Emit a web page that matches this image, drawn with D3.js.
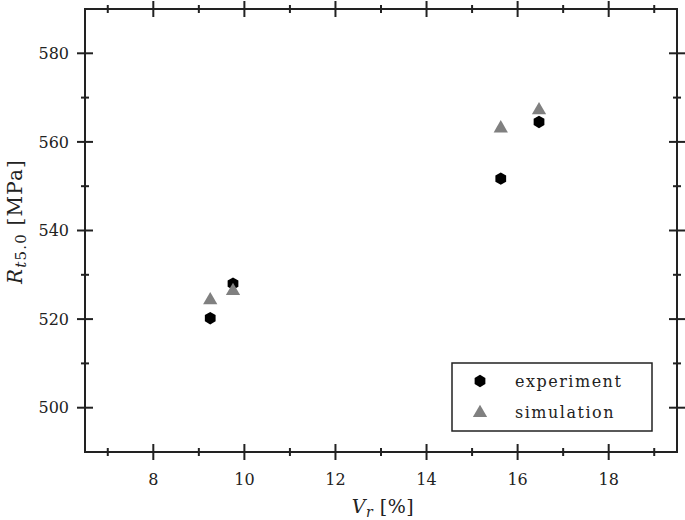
<!DOCTYPE html>
<html>
<head>
<meta charset="utf-8">
<script src="https://cdn.jsdelivr.net/npm/d3@7"></script>
<style>
  body { margin: 0; background: #fff; }
  svg { display: block; }
  text { font-family: "DejaVu Serif", serif; fill: #222; }
</style>
</head>
<body>
<svg id="chart" width="685" height="520"></svg>
<script>
// values
var vr = [9.25, 9.75, 15.63, 16.47];
var experiment = [520.2, 528.0, 551.7, 564.5];
var simulation = [524.5, 526.6, 563.3, 567.4];
var seriesNames = ["experiment", "simulation"];
var xTicks = [8, 10, 12, 14, 16, 18];
var yTicks = [500, 520, 540, 560, 580];
var xMinor = [7, 9, 11, 13, 15, 17, 19];
var yMinor = [510, 530, 550, 570];

var W = 685, H = 520;
var margin = { top: 9, right: 8, bottom: 68, left: 85 };
var width = W - margin.left - margin.right,
    height = H - margin.top - margin.bottom;

var svg = d3.select("#chart");
var g = svg.append("g").attr("transform", "translate(" + margin.left + "," + margin.top + ")");

var x = d3.scaleLinear().domain([6.5, 19.5]).range([0, width]);
var y = d3.scaleLinear().domain([490, 590]).range([height, 0]);

var ink = "#222";

// frame
g.append("rect")
  .attr("width", width).attr("height", height)
  .attr("fill", "none").attr("stroke", ink).attr("stroke-width", 2);

function ticksX(vals, len, yPos) {
  g.append("g").selectAll("line").data(vals).enter().append("line")
    .attr("x1", function (d) { return x(d); }).attr("x2", function (d) { return x(d); })
    .attr("y1", yPos - len).attr("y2", yPos + len)
    .attr("stroke", ink).attr("stroke-width", 2);
}
function ticksY(vals, len, xPos) {
  g.append("g").selectAll("line").data(vals).enter().append("line")
    .attr("y1", function (d) { return y(d); }).attr("y2", function (d) { return y(d); })
    .attr("x1", xPos - len).attr("x2", xPos + len)
    .attr("stroke", ink).attr("stroke-width", 2);
}
ticksX(xTicks, 8, 0); ticksX(xTicks, 8, height);
ticksX(xMinor, 4, 0); ticksX(xMinor, 4, height);
ticksY(yTicks, 8, 0); ticksY(yTicks, 8, width);
ticksY(yMinor, 4, 0); ticksY(yMinor, 4, width);

// tick labels
g.append("g").selectAll("text").data(xTicks).enter().append("text")
  .attr("x", function (d) { return x(d); }).attr("y", height + 33)
  .attr("text-anchor", "middle").attr("font-size", 16)
  .text(function (d) { return d; });
g.append("g").selectAll("text").data(yTicks).enter().append("text")
  .attr("x", -16).attr("y", function (d) { return y(d); }).attr("dy", "0.36em")
  .attr("text-anchor", "end").attr("font-size", 16)
  .text(function (d) { return d; });

// axis titles
var xl = g.append("text")
  .attr("x", width / 2 + 2).attr("y", height + 61)
  .attr("text-anchor", "middle").attr("font-size", 19).attr("letter-spacing", 0.5);
xl.append("tspan").attr("font-style", "italic").text("V");
xl.append("tspan").attr("font-style", "italic").attr("font-size", 14).attr("dy", 4).text("r");
xl.append("tspan").attr("dy", -4).text(" [%]");

var yl = g.append("text")
  .attr("transform", "translate(" + (-margin.left + 22) + "," + (height / 2 - 9) + ") rotate(-90)")
  .attr("text-anchor", "middle").attr("font-size", 20).attr("letter-spacing", 1.2);
yl.append("tspan").attr("font-style", "italic").text("R");
var sub = yl.append("tspan").attr("font-size", 15).attr("dy", 4);
sub.append("tspan").attr("font-style", "italic").text("t");
sub.append("tspan").text("5.0");
yl.append("tspan").attr("dy", -4).text(" [MPa]");

// markers
var hex = d3.symbol().type({
  draw: function (ctx, size) {
    var r = Math.sqrt(size / 2.598);
    for (var i = 0; i < 6; i++) {
      var a = Math.PI / 2 + i * Math.PI / 3;
      var px = r * Math.cos(a), py = r * Math.sin(a);
      if (i === 0) ctx.moveTo(px, py); else ctx.lineTo(px, py);
    }
    ctx.closePath();
  }
}).size(100);
var tri = d3.symbol().type(d3.symbolTriangle).size(88);

g.append("g").selectAll("path").data(vr).enter().append("path")
  .attr("d", hex)
  .attr("transform", function (d, i) { return "translate(" + x(d) + "," + y(experiment[i]) + ")"; })
  .attr("fill", "#000");
g.append("g").selectAll("path").data(vr).enter().append("path")
  .attr("d", tri)
  .attr("transform", function (d, i) { return "translate(" + x(d) + "," + (y(simulation[i]) + 1) + ")"; })
  .attr("fill", "#808080");

// legend
var lg = g.append("g").attr("transform", "translate(" + (452 - margin.left) + "," + (363 - margin.top) + ")");
lg.append("rect").attr("width", 200).attr("height", 68)
  .attr("fill", "#fff").attr("stroke", ink).attr("stroke-width", 1.5);
lg.append("path").attr("d", hex).attr("transform", "translate(28,18)").attr("fill", "#000");
lg.append("path").attr("d", tri).attr("transform", "translate(28,50)").attr("fill", "#808080");
lg.selectAll("text").data(seriesNames).enter().append("text")
  .attr("x", 63).attr("y", function (d, i) { return 18 + i * 31; }).attr("dy", "0.35em")
  .attr("font-size", 16).attr("letter-spacing", 1.5)
  .text(function (d) { return d; });
</script>
</body>
</html>
